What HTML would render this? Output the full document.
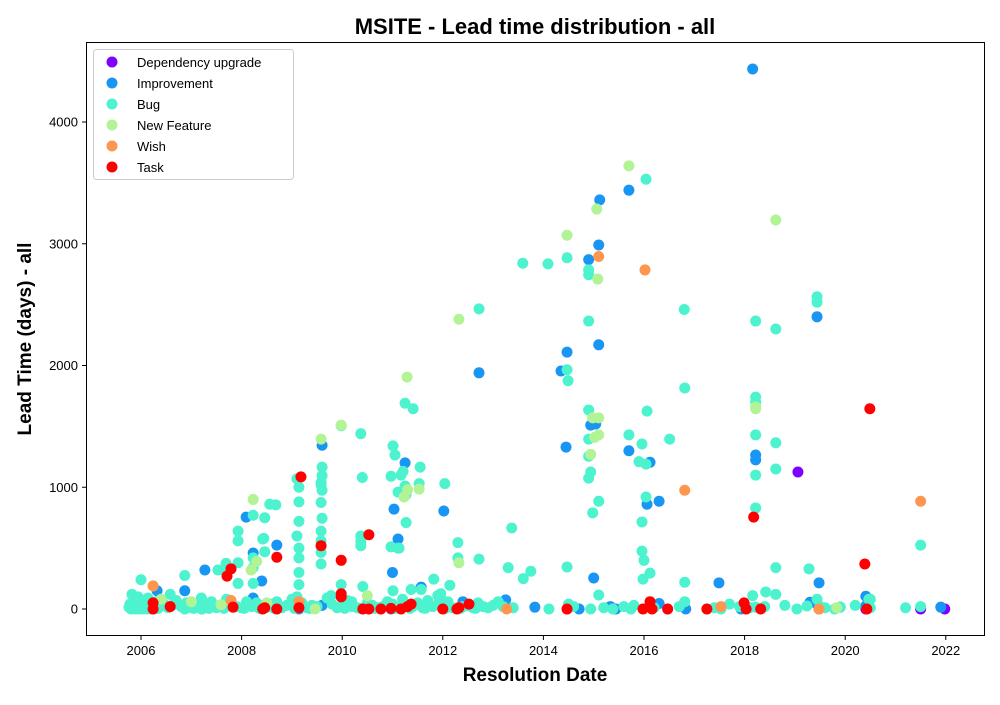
<!DOCTYPE html>
<html><head><meta charset="utf-8"><style>
body{margin:0;background:#fff;font-family:"Liberation Sans",sans-serif}
svg text{font-family:"Liberation Sans",sans-serif}
</style></head><body>
<svg id="chart" width="1000" height="700">
<rect width="1000" height="700" fill="#fff"/>
<text x="535" y="34" text-anchor="middle" font-size="22" font-weight="bold">MSITE - Lead time distribution - all</text>
<text x="535" y="681" text-anchor="middle" font-size="19" font-weight="bold">Resolution Date</text>
<text transform="translate(31,339) rotate(-90)" text-anchor="middle" font-size="19" font-weight="bold">Lead Time (days) - all</text>
<g id="marks"></g>
<rect x="86.5" y="42.5" width="898" height="593" fill="none" stroke="#000" stroke-width="1"/>
<g id="ticks"></g>
<g id="legend"></g>
</svg>
<script>
const xTicks=[2006,2008,2010,2012,2014,2016,2018,2020,2022];
const yTicks=[0,1000,2000,3000,4000];
const seriesNames=["Dependency upgrade","Improvement","Bug","New Feature","Wish","Task"];
const seriesColors=["#8000ff","#1996f3","#4df3ce","#b2f396","#ff964f","#ff0000"];
const depX=[2019.06,2020.41,2021.50,2021.98,2019.48];
const depY=[1125,0,0,0,0];
const impX=[2018.16,2015.12,2015.70,2015.10,2014.90,2015.10,2014.47,2014.35,2019.44,2012.72,2015.70,2014.45,2016.12,2018.22,2018.22,2009.60,2011.25,2011.03,2012.02,2011.11,2011.08,2016.30,2016.06,2014.94,2015.04,2008.09,2008.70,2017.49,2019.48,2020.41,2015.00,2007.27,2008.23,2006.32,2006.87,2011.57,2013.25,2013.83,2014.71,2015.44,2016.83,2021.90,2020.41,2019.44,2017.93,2008.23,2007.21,2010.97,2009.14,2015.33,2016.30,2019.30,2019.9,2012.4,2011.0,2008.4,2009.6];
const impY=[4435,3360,3440,2990,2870,2170,2110,1955,2400,1940,1300,1330,1205,1265,1225,1345,1200,820,805,575,520,885,860,1510,1520,755,525,215,215,105,255,320,460,150,150,180,75,15,0,0,0,15,25,40,0,90,0,0,0,20,45,55,15,60,300,230,30];
const bugX=[2016.04,2013.59,2014.09,2014.47,2014.90,2014.90,2012.72,2014.90,2018.62,2018.22,2019.44,2019.44,2016.81,2018.22,2018.22,2018.62,2018.22,2016.51,2015.70,2015.96,2016.06,2014.90,2014.49,2014.47,2014.90,2014.90,2014.90,2014.94,2014.98,2015.10,2016.04,2016.04,2015.96,2015.96,2016.12,2015.98,2018.62,2018.62,2018.22,2018.22,2018.16,2018.22,2016.81,2016.81,2015.10,2014.47,2021.50,2019.28,2019.24,2019.44,2019.79,2020.47,2019.04,2018.62,2018.42,2018.03,2017.53,2017.25,2016.47,2015.74,2015.38,2014.94,2014.11,2013.75,2013.37,2012.72,2012.30,2012.30,2012.14,2011.96,2011.82,2011.57,2011.37,2011.21,2011.25,2011.01,2010.97,2011.11,2011.25,2011.41,2011.53,2011.55,2012.04,2011.27,2011.17,2011.27,2011.11,2010.97,2011.13,2011.05,2010.37,2010.37,2010.37,2010.37,2010.41,2010.19,2009.98,2009.78,2009.60,2009.60,2009.58,2009.60,2009.58,2009.60,2009.58,2009.58,2009.58,2009.58,2009.58,2009.14,2009.14,2009.14,2009.10,2009.14,2009.14,2009.14,2009.14,2009.10,2009.10,2008.68,2008.56,2008.46,2008.42,2008.46,2008.44,2008.23,2008.23,2008.23,2008.23,2007.93,2007.93,2007.93,2007.93,2007.69,2007.69,2007.53,2007.21,2006.87,2006.87,2006.58,2006.24,2006.00,2005.76,2009.98,2011.01,2010.4,2011.9,2012.0,2013.3,2013.6,2016.8,2015.9,2016.0,2019.9,2020.5,
2005.78,2005.82,2005.86,2005.90,2005.94,2005.98,2006.02,2006.06,2006.10,2006.14,2006.18,2006.22,2006.30,2006.38,2006.46,2006.54,2006.62,2006.70,2006.80,2006.90,2007.00,2007.10,2007.20,2007.30,2007.40,2007.50,2007.60,2007.70,2007.80,2007.90,2008.00,2008.10,2008.20,2008.30,2008.40,2008.50,2008.60,2008.70,2008.80,2008.90,2009.00,2009.10,2009.20,2009.30,2009.40,2009.50,2009.70,2009.80,2009.90,2010.00,2010.10,2010.20,2010.30,2010.50,2010.60,2010.70,2010.80,2010.90,2011.00,2011.10,2011.20,2011.30,2011.40,2011.50,2011.60,2011.70,2011.80,2011.90,2012.10,2012.20,2012.40,2012.50,2012.60,2012.70,2012.80,2012.90,2013.00,2013.10,2013.20,2013.40,2014.50,2014.60,2015.20,2015.60,2015.80,2016.20,2016.70,2017.40,2017.70,2017.90,2018.10,2018.40,2018.80,2019.50,2019.60,2020.20,2020.50,2021.20,2021.50,
2005.80,2005.88,2005.96,2006.04,2006.12,2006.20,2005.84,2005.92,2006.00,2006.08,2006.16,2006.26,2006.34,2007.05,2007.35,2007.65,2008.05,2008.35,2008.65,2009.05,2009.35,2010.05,2010.35,2010.65,2011.05,2011.35,2011.65,2012.05,2012.35,2012.65];
const bugY=[3530,2840,2835,2885,2745,2785,2465,2365,2300,2365,2565,2520,1815,1740,1700,1365,1430,1395,1430,1355,1625,1635,1875,1965,1395,1255,1075,1125,790,885,1190,920,715,475,295,245,1150,340,1100,830,110,15,220,60,115,345,525,330,25,80,0,80,0,120,140,0,0,0,0,0,0,0,0,310,665,410,545,420,195,125,245,160,160,1130,1010,1340,1090,960,1690,1645,1030,1165,1030,710,1100,940,500,510,500,1265,1440,600,555,520,185,60,1505,110,1165,1095,1040,975,875,745,640,560,465,370,1020,1000,880,720,600,500,420,300,200,100,1070,855,860,750,575,470,580,420,340,210,770,560,380,210,640,300,375,320,0,0,275,120,0,240,15,200,150,1080,110,40,340,250,2460,1210,400,15,80,
40,120,60,20,100,80,10,70,30,90,50,15,60,20,40,10,30,70,20,50,10,40,90,20,60,10,30,80,40,20,10,60,20,50,30,15,40,60,10,30,80,20,50,10,30,20,90,40,10,30,70,20,10,50,30,10,20,60,40,10,80,30,20,50,10,70,20,40,60,10,20,30,10,50,20,10,30,60,20,10,40,20,10,20,30,10,20,10,40,20,10,20,30,20,10,30,10,10,20,
0,0,0,0,0,0,5,5,5,5,5,5,5,5,5,5,5,5,5,5,5,5,5,5,5,5,5,5,5,5];
const nfX=[2015.70,2015.06,2014.47,2018.62,2012.32,2015.08,2011.29,2009.98,2009.58,2008.23,2011.53,2014.98,2015.10,2015.10,2015.02,2014.94,2018.22,2018.22,2012.32,2011.23,2008.19,2007.59,2006.40,2006.24,2009.46,2007.79,2008.50,2019.83,2010.50,2008.3,2011.3,2012.3,2007.0];
const nfY=[3640,3285,3070,3195,2380,2710,1905,1510,1395,900,985,1570,1570,1430,1410,1270,1660,1645,380,920,320,35,80,190,0,60,50,10,110,390,980,10,60];
const wishX=[2015.10,2016.02,2016.81,2021.50,2007.79,2006.24,2009.14,2013.27,2019.48,2017.53,2014.47];
const wishY=[2895,2785,975,885,70,190,60,0,0,20,0];
const taskX=[2009.18,2009.58,2009.98,2009.98,2009.98,2010.53,2008.70,2007.79,2007.71,2007.83,2006.24,2006.24,2006.58,2008.42,2008.46,2008.70,2009.14,2010.77,2010.97,2011.17,2011.37,2012.00,2012.32,2012.52,2014.47,2015.98,2016.12,2016.16,2016.47,2017.25,2017.99,2018.03,2018.32,2018.18,2020.49,2020.39,2020.43,2010.41,2010.53,2011.30,2012.28];
const taskY=[1085,520,400,125,100,610,425,330,270,15,50,0,20,0,10,0,10,0,5,0,40,0,10,40,0,0,60,0,0,0,50,0,0,755,1645,370,0,0,0,20,0];
const seriesX=[depX,impX,bugX,nfX,wishX,taskX];
const seriesY=[depY,impY,bugY,nfY,wishY,taskY];

const X0=86.5,X1=984.5;
function xs(v){return 141+(v-2006)*50.3;}
function ys(v){return 609-v*0.12175;}
const NS="http://www.w3.org/2000/svg";
const marks=document.getElementById('marks');
const order=[0,1,2,3,4,5];
order.forEach(si=>{
  const g=document.createElementNS(NS,'g');
  
  
  seriesX[si].forEach((x,i)=>{
    const c=document.createElementNS(NS,'circle');
    c.setAttribute('cx',xs(x));c.setAttribute('cy',ys(seriesY[si][i]));
    c.setAttribute('r',5.5);c.setAttribute('fill',seriesColors[si]);
    
    
    g.appendChild(c);
  });
  marks.appendChild(g);
});
const tk=document.getElementById('ticks');
xTicks.forEach(t=>{
  const x=xs(t);
  const l=document.createElementNS(NS,'line');
  l.setAttribute('x1',x);l.setAttribute('x2',x);l.setAttribute('y1',636);l.setAttribute('y2',640);l.setAttribute('stroke','#000');
  
  
  tk.appendChild(l);
  const tx=document.createElementNS(NS,'text');
  tx.setAttribute('x',x);tx.setAttribute('y',655);tx.setAttribute('text-anchor','middle');tx.setAttribute('font-size','13');
  tx.textContent=t;
  
  
  tk.appendChild(tx);
});
yTicks.forEach(t=>{
  const y=ys(t);
  const l=document.createElementNS(NS,'line');
  l.setAttribute('x1',82);l.setAttribute('x2',86.5);l.setAttribute('y1',y);l.setAttribute('y2',y);l.setAttribute('stroke','#000');
  
  
  tk.appendChild(l);
  const tx=document.createElementNS(NS,'text');
  tx.setAttribute('x',78);tx.setAttribute('y',y+4.5);tx.setAttribute('text-anchor','end');tx.setAttribute('font-size','13');
  tx.textContent=t;
  
  
  tk.appendChild(tx);
});
const lg=document.getElementById('legend');


const box=document.createElementNS(NS,'rect');
box.setAttribute('x',93.5);box.setAttribute('y',49.5);box.setAttribute('width',200);box.setAttribute('height',130);box.setAttribute('rx',3);
box.setAttribute('fill','#fff');box.setAttribute('fill-opacity','0.8');box.setAttribute('stroke','#ccc');


lg.appendChild(box);
seriesNames.forEach((n,i)=>{
  const y=62+i*21;
  const c=document.createElementNS(NS,'circle');
  c.setAttribute('cx',112);c.setAttribute('cy',y);c.setAttribute('r',5.5);c.setAttribute('fill',seriesColors[i]);
  
  
  lg.appendChild(c);
  const t=document.createElementNS(NS,'text');
  t.setAttribute('x',137);t.setAttribute('y',y+5);t.setAttribute('font-size','13');
  t.textContent=n;
  
  
  lg.appendChild(t);
});
</script>
</body></html>
